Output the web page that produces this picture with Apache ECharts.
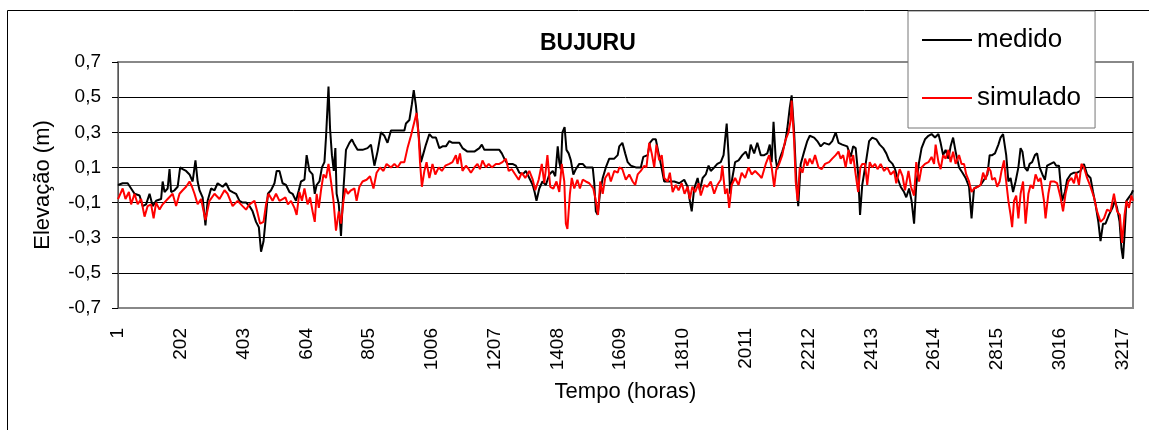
<!DOCTYPE html>
<html>
<head>
<meta charset="utf-8">
<title>BUJURU</title>
<script src="https://cdn.jsdelivr.net/npm/echarts@6/dist/echarts.min.js"></script>
<style>
  html, body { margin: 0; padding: 0; background: #fff; }
  #chart { width: 1149px; height: 430px; }
</style>
</head>
<body>
<div id="chart"></div>
<script>
// valores (hora, elevacao em m)
var horasMedido = [
  1, 16, 32, 43, 54, 70, 80, 91, 102, 112, 123, 139, 144, 150, 160, 166, 171, 182, 192, 200,
  208, 219, 230, 240, 249, 256, 262, 272, 281, 288, 299, 310, 320, 336, 347, 358, 368, 379, 390, 400,
  411, 422, 432, 443, 452, 459, 467, 473, 481, 491, 502, 509,
  518, 528, 539, 550, 560, 571, 580, 587, 598, 605, 614, 624, 631, 637, 646, 654, 662, 667, 675, 680,
  686, 692, 697, 701, 708, 715, 723, 731, 742, 750, 758, 768, 784, 800, 811, 822, 832, 843, 854, 864,
  875, 891, 918, 923, 934, 942, 948, 955, 964, 971, 979, 987, 998, 1008, 1019, 1030, 1040, 1051,
  1062, 1072, 1094, 1104, 1120, 1142, 1158, 1166, 1174, 1195, 1222, 1230, 1238, 1248, 1264, 1275, 1286, 1297,
  1307, 1318, 1329, 1335, 1341, 1350, 1360, 1371, 1382, 1393, 1401, 1409, 1414, 1419, 1424, 1431, 1437, 1444,
  1451, 1459, 1467, 1478, 1489, 1499, 1510, 1521, 1526, 1531, 1537, 1544, 1553, 1563, 1574, 1590, 1601,
  1606, 1616, 1625, 1633, 1643, 1659, 1675, 1683, 1697, 1704, 1713, 1723, 1732, 1739, 1750, 1766, 1782, 1798,
  1814, 1825, 1832, 1838, 1846, 1857, 1864, 1873, 1883, 1892, 1899, 1910, 1920, 1931, 1940, 1945, 1950, 1956,
  1961, 1968, 1977, 1988, 2000, 2011, 2020, 2027, 2038, 2048, 2059, 2070, 2080, 2088, 2094, 2100, 2107, 2112,
  2120, 2128, 2137, 2144,
  2152, 2158, 2166, 2173, 2179, 2187, 2198, 2208, 2216, 2230, 2240, 2251, 2262, 2278, 2288, 2299, 2308, 2320,
  2336, 2347, 2355, 2363, 2371, 2377, 2384, 2395, 2406, 2416, 2429, 2440, 2451, 2461, 2470, 2481, 2489, 2497,
  2507, 2518, 2525, 2534, 2542, 2550, 2557, 2566, 2574, 2585, 2596, 2606, 2617, 2628, 2635, 2643, 2651, 2660,
  2667, 2675, 2683,
  2694, 2705, 2715, 2726, 2734, 2742, 2753, 2763, 2774, 2785, 2792, 2800, 2809, 2820, 2827, 2835, 2840, 2845,
  2852, 2859, 2867, 2875, 2884, 2891, 2897, 2904, 2913, 2920, 2928, 2937, 2944, 2952, 2961, 2969, 2976, 2987,
  2998, 3005, 3014, 3024, 3033, 3040, 3051, 3062, 3072, 3083, 3094, 3104, 3115, 3123, 3131, 3140, 3147, 3155,
  3163, 3174, 3185, 3193, 3200, 3208, 3214, 3219, 3224, 3230, 3238, 3246, 3251
]
var medido = [
  0.00, 0.01, 0.01, -0.02, -0.05, -0.06, -0.12, -0.11, -0.05, -0.12, -0.09, -0.08, 0.02, -0.04, -0.02, 0.09, -0.04, -0.03, -0.01, 0.10,
  0.09, 0.08, 0.06, 0.02, 0.14, 0.02, -0.03, -0.07, -0.23, -0.09, -0.02, -0.03, 0.01, -0.01, 0.01, -0.03, -0.04, -0.05, -0.09, -0.10,
  -0.10, -0.12, -0.15, -0.21, -0.24, -0.38, -0.32, -0.21, -0.05, -0.03, 0.01, 0.08,
  0.08, 0.01, 0.00, -0.04, -0.05, -0.09, -0.03, 0.02, 0.03, 0.17, 0.08, 0.06, -0.05, 0.00, 0.02, 0.10, 0.13, 0.27, 0.56, 0.32,
  0.17, 0.08, 0.21, -0.05, -0.11, -0.29, -0.02, 0.20, 0.24, 0.26, 0.23, 0.20, 0.20, 0.21, 0.23, 0.11, 0.19, 0.30, 0.28, 0.24,
  0.31, 0.31, 0.31, 0.35, 0.37, 0.46, 0.54, 0.45, 0.28, 0.13, 0.18, 0.23, 0.29, 0.27, 0.27, 0.21, 0.22, 0.22,
  0.25, 0.24, 0.24, 0.21, 0.19, 0.19, 0.21, 0.23, 0.20, 0.20, 0.20, 0.18, 0.15, 0.12, 0.12, 0.11, 0.07, 0.06,
  0.08, 0.04, 0.00, -0.04, -0.09, -0.02, 0.02, 0.00, 0.06, 0.08, 0.05, 0.22, 0.13, 0.09, 0.30, 0.33, 0.20, 0.18,
  0.14, 0.06, 0.09, 0.12, 0.12, 0.10, 0.10, 0.10, 0.01, -0.15, -0.17, -0.05, 0.04, 0.10, 0.15, 0.15, 0.17,
  0.22, 0.24, 0.18, 0.13, 0.11, 0.10, 0.10, 0.16, 0.17, 0.24, 0.26, 0.26, 0.18, 0.12, 0.02, 0.02, 0.02, 0.01,
  0.03, -0.01, -0.09, -0.15, -0.02, 0.04, -0.03, 0.04, 0.06, 0.11, 0.08, 0.10, 0.12, 0.13, 0.17, 0.26, 0.35, 0.17,
  -0.05, 0.04, 0.13, 0.14, 0.17, 0.19, 0.15, 0.23, 0.18, 0.24, 0.17, 0.17, 0.18, 0.23, 0.13, 0.36, 0.15, 0.09,
  0.15, 0.19, 0.24, 0.32,
  0.44, 0.51, 0.30, 0.02, -0.12, 0.12, 0.19, 0.25, 0.28, 0.27, 0.25, 0.22, 0.24, 0.23, 0.25, 0.30, 0.24, 0.23,
  0.22, 0.16, 0.22, 0.21, 0.06, -0.17, 0.00, 0.12, 0.25, 0.27, 0.26, 0.23, 0.21, 0.18, 0.14, 0.12, 0.09, 0.04,
  -0.01, -0.04, -0.07, -0.02, -0.09, -0.22, 0.00, 0.13, 0.21, 0.26, 0.28, 0.29, 0.27, 0.29, 0.24, 0.17, 0.20, 0.15,
  0.22, 0.27, 0.19,
  0.10, 0.07, 0.04, -0.01, -0.19, -0.02, -0.01, 0.00, 0.03, 0.06, 0.17, 0.17, 0.18, 0.23, 0.27, 0.29, 0.28, 0.17,
  0.02, 0.04, -0.04, 0.02, 0.10, 0.21, 0.19, 0.10, 0.08, 0.12, 0.13, 0.17, 0.18, 0.10, 0.06, 0.03, 0.11, 0.12,
  0.13, 0.11, 0.11, -0.09, -0.04, 0.03, 0.06, 0.07, 0.07, 0.08, 0.12, 0.06, 0.04, -0.04, -0.11, -0.21, -0.32, -0.22,
  -0.22, -0.17, -0.13, -0.09, -0.13, -0.21, -0.36, -0.42, -0.28, -0.09, -0.07, -0.05, -0.03
]
var horasSimulado = [
  1, 16, 25, 36, 43, 54, 64, 75, 86, 96, 107, 115, 123, 134, 144, 160, 176, 187, 198, 208,
  219, 230, 238, 246, 256, 267, 281, 294, 310, 326, 342, 352, 368, 384, 400, 411, 422, 438, 448, 456,
  467, 475, 483, 496, 507,
  518, 528, 537, 545, 555, 566, 573, 582, 590, 598, 608, 616, 624, 631, 637, 644, 651, 659, 667, 675,
  683, 691, 699, 708, 715, 723, 729, 737, 747, 758, 765, 774, 784, 797, 808, 819, 829, 840, 851, 861,
  875, 886, 896, 907, 918, 928, 939, 950, 957, 964, 968, 974, 982, 989, 998, 1008, 1017, 1028, 1038, 1049,
  1062, 1072, 1083, 1088, 1096, 1104, 1115, 1124, 1131, 1142, 1152, 1160, 1168, 1179, 1188, 1198, 1211, 1222,
  1232, 1243, 1252, 1262, 1273, 1284, 1294, 1305, 1318, 1329, 1337, 1348, 1358, 1366, 1376, 1385, 1395, 1405,
  1414, 1422, 1430, 1435, 1440, 1448, 1454, 1462, 1472, 1480, 1489, 1499, 1510, 1523, 1531, 1538, 1545, 1553,
  1561, 1572, 1579, 1590, 1601,
  1606, 1616, 1627, 1638, 1649, 1657, 1665, 1675, 1686, 1693, 1702, 1710, 1718, 1725, 1734, 1742, 1750, 1761,
  1768, 1777, 1787, 1796, 1806, 1815, 1825, 1832, 1840, 1849, 1860, 1867, 1878, 1888, 1899, 1910, 1920, 1931,
  1936, 1945, 1952, 1958, 1966, 1977, 1988, 1998, 2009, 2020, 2030, 2041, 2052, 2062, 2075, 2086, 2094, 2102,
  2109, 2118, 2128, 2137, 2148, 2155,
  2158, 2166, 2171, 2177, 2184, 2193, 2201, 2208, 2216, 2224, 2233, 2244, 2254, 2265, 2278, 2288, 2299, 2308,
  2315, 2323, 2331, 2340, 2347, 2355, 2363, 2371, 2378, 2384, 2393, 2400, 2408, 2416, 2425, 2433, 2443, 2454,
  2464, 2475, 2486, 2493, 2504, 2513, 2521, 2532, 2540, 2550, 2557, 2566, 2574, 2585, 2596, 2606, 2614, 2619,
  2628, 2635, 2643, 2651, 2660, 2667, 2675, 2683,
  2694, 2702, 2710, 2717, 2726, 2734, 2742, 2753, 2763, 2771, 2779, 2788, 2795, 2800, 2809, 2816, 2824, 2830,
  2838, 2843, 2852, 2859, 2864, 2870, 2877, 2884, 2891, 2899, 2907, 2916, 2923, 2931, 2939, 2948, 2955, 2966,
  2971, 2980, 2987, 2998, 3008, 3019, 3027, 3035, 3044, 3054, 3062, 3069, 3078, 3086, 3094, 3104, 3115, 3126,
  3136, 3147, 3158, 3168, 3179, 3190, 3200, 3209, 3216, 3224, 3230, 3238, 3246, 3251
]
var simulado = [
  -0.08, -0.02, -0.08, -0.04, -0.11, -0.05, -0.11, -0.08, -0.18, -0.12, -0.11, -0.19, -0.10, -0.14, -0.11, -0.08, -0.05, -0.12, -0.05, -0.03,
  -0.01, 0.02, -0.01, -0.05, -0.11, -0.08, -0.20, -0.09, -0.05, -0.08, -0.03, -0.05, -0.12, -0.09, -0.12, -0.14, -0.11, -0.09, -0.16, -0.22,
  -0.21, -0.11, -0.05, -0.09, -0.05,
  -0.09, -0.08, -0.07, -0.11, -0.09, -0.13, -0.17, -0.04, -0.09, -0.02, -0.11, -0.07, -0.15, -0.21, -0.05, -0.13, -0.03, 0.06, 0.04, 0.12,
  0.02, -0.09, -0.26, -0.15, -0.22, -0.09, -0.02, -0.05, -0.03, -0.02, -0.09, -0.01, 0.02, 0.03, 0.05, -0.02, 0.07, 0.10, 0.08, 0.12,
  0.10, 0.12, 0.10, 0.13, 0.13, 0.21, 0.28, 0.36, 0.41, 0.27, 0.13, -0.01, 0.08, 0.13, 0.04, 0.12, 0.06, 0.10, 0.08, 0.11,
  0.12, 0.13, 0.17, 0.12, 0.18, 0.08, 0.11, 0.09, 0.07, 0.10, 0.12, 0.09, 0.14, 0.10, 0.12, 0.10, 0.12, 0.12,
  0.13, 0.15, 0.08, 0.09, 0.06, 0.03, 0.07, 0.04, 0.08, 0.03, -0.03, 0.03, 0.12, 0.01, 0.17, -0.01, -0.02, 0.02,
  -0.04, 0.12, 0.02, -0.22, -0.25, -0.05, 0.04, -0.02, 0.03, -0.02, 0.03, 0.02, 0.01, -0.02, -0.09, -0.17, 0.02, -0.05,
  0.04, 0.07, 0.02, 0.08, 0.07,
  0.10, 0.09, 0.03, 0.06, 0.02, 0.00, 0.06, 0.08, 0.11, 0.10, 0.24, 0.18, 0.10, 0.23, 0.14, 0.17, 0.04, 0.02,
  0.07, -0.04, 0.00, -0.03, 0.01, -0.05, -0.01, -0.08, -0.01, -0.04, 0.01, -0.06, 0.00, -0.01, 0.02, -0.05, 0.00, 0.03,
  0.11, -0.05, -0.02, -0.13, 0.00, 0.04, 0.00, 0.07, 0.04, 0.10, 0.06, 0.08, 0.06, 0.04, 0.12, 0.17, 0.10, -0.01,
  0.09, 0.12, 0.17, 0.25, 0.30, 0.37,
  0.48, 0.25, 0.02, -0.09, 0.10, 0.07, 0.15, 0.11, 0.15, 0.12, 0.17, 0.10, 0.09, 0.12, 0.13, 0.15, 0.17, 0.19,
  0.15, 0.17, 0.10, 0.20, 0.12, 0.17, 0.06, -0.04, 0.10, 0.12, 0.12, 0.00, 0.13, 0.10, 0.12, 0.09, 0.12, 0.08,
  0.10, 0.06, 0.08, 0.01, 0.09, 0.05, -0.03, 0.08, -0.01, -0.06, 0.13, 0.02, 0.10, 0.12, 0.13, 0.16, 0.12, 0.23,
  0.13, 0.09, 0.17, 0.15, 0.20, 0.13, 0.19, 0.12,
  0.17, 0.12, 0.12, 0.06, 0.02, -0.04, -0.02, -0.01, 0.00, 0.07, 0.03, 0.10, 0.08, 0.03, 0.04, -0.01, 0.02, 0.08,
  0.14, 0.05, -0.09, -0.17, -0.24, -0.09, -0.06, -0.19, -0.05, 0.02, -0.22, -0.05, 0.00, -0.02, 0.06, 0.02, 0.04, -0.09,
  -0.19, -0.05, 0.02, 0.02, 0.01, -0.07, -0.15, -0.05, 0.02, 0.04, 0.01, 0.07, 0.00, 0.12, 0.10, 0.04, -0.01, -0.07,
  -0.15, -0.21, -0.19, -0.14, -0.15, -0.05, -0.15, -0.17, -0.33, -0.17, -0.09, -0.13, -0.06, -0.09
]
var rotulosY = { min: -0.7, max: 0.7, passo: 0.2 }
var passoHoras = 201
var ultimaHora = 3251

var fonte = "'Liberation Sans', Arial, sans-serif"

function pares(horas, valores) {
  var out = []
  for (var i = 0; i < horas.length; i++) {
    // eixo conta a partir de 0 -> hora 1 fica na origem
    out.push([horas[i] - 1, valores[i]])
  }
  return out
}

var chart = echarts.init(document.getElementById('chart'))
chart.setOption({
  animation: false,
  backgroundColor: '#fff',
  textStyle: { fontFamily: fonte, color: '#000' },
  graphic: [{
    type: 'rect',
    shape: { x: 7.5, y: 10.5, width: 1200, height: 500 },
    style: { fill: 'none', stroke: '#000', lineWidth: 1 },
    z: -1
  }],
  title: {
    text: 'BUJURU',
    left: 535,
    top: 27,
    textStyle: { fontFamily: fonte, fontSize: 23, fontWeight: 'bold', color: '#000' }
  },
  legend: {
    orient: 'vertical',
    left: 908,
    top: 11,
    padding: [14, 14, 15, 14],
    itemGap: 28,
    itemWidth: 50,
    itemHeight: 2,
    icon: 'rect',
    backgroundColor: '#fff',
    borderColor: '#777',
    borderWidth: 1,
    textStyle: { fontFamily: fonte, fontSize: 26, lineHeight: 30, color: '#000' },
    data: ['medido', 'simulado'],
    z: 10
  },
  grid: {
    left: 118,
    right: 16,
    top: 62,
    bottom: 122,
    show: true,
    borderColor: '#888',
    borderWidth: 2
  },
  xAxis: {
    type: 'value',
    min: 0,
    max: ultimaHora - 1,
    interval: passoHoras,
    name: 'Tempo (horas)',
    nameLocation: 'middle',
    nameGap: 73,
    nameTextStyle: { fontFamily: fonte, fontSize: 22, color: '#000' },
    axisLine: { show: true, lineStyle: { color: '#555', width: 1 } },
    axisTick: { show: false },
    splitLine: { show: false },
    axisLabel: {
      rotate: 90,
      margin: 20,
      showMaxLabel: false,
      fontFamily: fonte,
      fontSize: 19,
      color: '#000',
      formatter: function (v) { return String(v + 1) }
    }
  },
  yAxis: {
    type: 'value',
    min: rotulosY.min,
    max: rotulosY.max,
    interval: rotulosY.passo,
    name: 'Elevação (m)',
    nameLocation: 'middle',
    nameGap: 64,
    nameTextStyle: { fontFamily: fonte, fontSize: 22, color: '#000' },
    axisLine: { show: true, lineStyle: { color: '#555', width: 1 } },
    axisTick: { show: true, inside: false, length: 6, lineStyle: { color: '#000' } },
    splitLine: { show: true, showMinLine: false, showMaxLine: false, lineStyle: { color: '#000', width: 1 } },
    axisLabel: {
      margin: 17,
      fontFamily: fonte,
      fontSize: 19,
      color: '#000',
      formatter: function (v) { return v.toFixed(1).replace('.', ',') }
    }
  },
  series: [{
    name: 'medido',
    type: 'line',
    symbol: 'none',
    color: '#000',
    lineStyle: { color: '#000', width: 2 },
    data: pares(horasMedido, medido)
  }, {
    name: 'simulado',
    type: 'line',
    symbol: 'none',
    color: '#ff0000',
    lineStyle: { color: '#ff0000', width: 2 },
    data: pares(horasSimulado, simulado)
  }]
})
</script>
</body>
</html>
